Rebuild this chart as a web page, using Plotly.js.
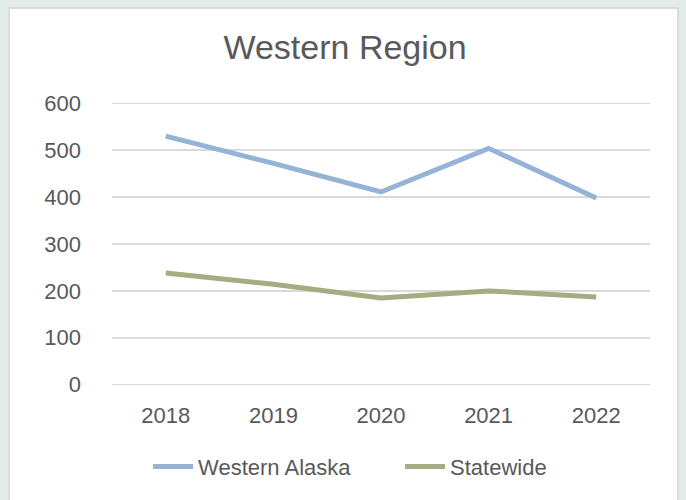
<!DOCTYPE html>
<html>
<head>
<meta charset="utf-8">
<script src="https://cdn.plot.ly/plotly-3.0.1.min.js"></script>
<style>
  html, body { margin: 0; padding: 0; background: #e4ecea; }
  #frame { position: absolute; left: 8px; top: 7px; width: 671px; height: 500px; background: #ffffff; border: 2px solid #d9dcdb; box-sizing: border-box; }
  #chart { position: absolute; left: 0; top: 0; width: 686px; height: 500px; }
</style>
</head>
<body>
<div id="frame"></div>
<div id="chart"></div>
<script>
const years = ["2018", "2019", "2020", "2021", "2022"];
const westernAlaska = [530, 472, 411, 504, 398];
const statewide = [238, 214, 185, 200, 187];
const yTicks = [0, 100, 200, 300, 400, 500, 600];

const traces = [
  { x: years, y: westernAlaska, name: "Western Alaska", type: "scatter", mode: "lines",
    line: { color: "#95b3d7", width: 5 } },
  { x: years, y: statewide, name: "Statewide", type: "scatter", mode: "lines",
    line: { color: "#a4ac80", width: 5 } }
];

const layout = {
  width: 686, height: 500,
  paper_bgcolor: "rgba(0,0,0,0)",
  plot_bgcolor: "rgba(0,0,0,0)",
  margin: { l: 112, r: 36, t: 101, b: 113 },
  title: { text: "Western Region", x: 0.503, xanchor: "center", y: 0.905, yanchor: "middle",
           font: { family: "Liberation Sans, Arial", size: 34, color: "#595959" } },
  font: { family: "Liberation Sans, Arial", color: "#595959" },
  xaxis: { type: "category", range: [-0.5, 4.5], showgrid: false, zeroline: false, showline: false,
           ticks: "", ticklabelstandoff: 13, tickfont: { size: 22, color: "#595959" } },
  yaxis: { range: [-5, 605], tickvals: yTicks, ticktext: yTicks.map(String), showgrid: true,
           gridcolor: "#d9d9d9", gridwidth: 1.5, zeroline: false, showline: false, ticks: "",
           ticklabelstandoff: 30, tickfont: { size: 22, color: "#595959" }, fixedrange: true },
  showlegend: true,
  legend: { orientation: "h", x: 0.067, xanchor: "left", y: -0.279, yanchor: "middle",
            font: { size: 22, color: "#595959" }, itemwidth: 40, entrywidth: 197,
            bgcolor: "rgba(0,0,0,0)" }
};

Plotly.newPlot("chart", traces, layout, { displayModeBar: false, staticPlot: true });
</script>
</body>
</html>
